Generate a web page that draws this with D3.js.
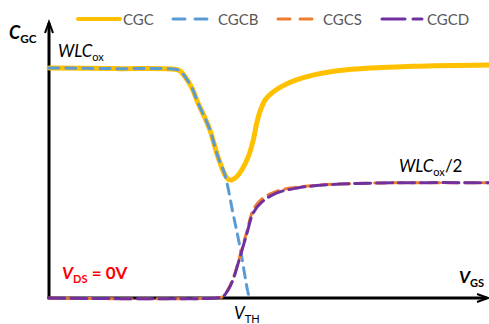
<!DOCTYPE html>
<html>
<head>
<meta charset="utf-8">
<script src="https://cdn.jsdelivr.net/npm/d3@7"></script>
<style>
  body { margin: 0; background: #fff; }
  svg { display: block; font-family: Lato, "Open Sans", sans-serif; }
</style>
</head>
<body>
<svg id="chart" width="489" height="324"></svg>
<script>
// gate voltage (arbitrary units) and normalized capacitance C/WLCox
const seriesNames = [ "CGC", "CGCB", "CGCS", "CGCD" ];

const cgcV = [ 0, 1.5, 2.864, 2.977, 3.091, 3.25, 3.386, 3.545, 3.659, 3.841, 4.0, 4.075, 4.152, 4.266, 4.38, 4.53, 4.643, 4.72, 4.795, 4.909, 5.061, 5.25, 5.59, 6.0, 6.77, 8.27, 10 ];
const cgcC = [ 0.996, 0.993, 0.99, 0.983, 0.958, 0.909, 0.844, 0.779, 0.727, 0.61, 0.532, 0.514, 0.511, 0.525, 0.554, 0.612, 0.684, 0.756, 0.807, 0.857, 0.887, 0.912, 0.942, 0.965, 0.988, 1.003, 1.009 ];

const cgcbV = [ 0, 1.5, 2.864, 2.977, 3.091, 3.25, 3.386, 3.545, 3.659, 3.841, 4.0, 4.18, 4.34, 4.52, 4.56 ];
const cgcbC = [ 0.996, 0.993, 0.99, 0.983, 0.958, 0.909, 0.844, 0.779, 0.727, 0.61, 0.532, 0.368, 0.221, 0.026, 0 ];

const cgcsV = [ 0, 3.8, 3.95, 4.07, 4.18, 4.34, 4.5, 4.64, 4.84, 5.18, 5.64, 6.23, 7.52, 10 ];
const cgcsC = [ 0, 0, 0.006, 0.037, 0.082, 0.182, 0.29, 0.381, 0.429, 0.463, 0.48, 0.49, 0.498, 0.499 ];

const cgcdV = [ 0, 3.8, 3.95, 4.07, 4.18, 4.34, 4.5, 4.64, 4.84, 5.18, 5.64, 6.23, 7.52, 10 ];
const cgcdC = [ 0, 0, 0.006, 0.035, 0.078, 0.177, 0.281, 0.368, 0.416, 0.455, 0.476, 0.489, 0.498, 0.499 ];

const styles = {
    CGC:  { color: "#FFC000", width: 5,   dash: null },
    CGCB: { color: "#5B9BD5", width: 3,   dash: "10,7" },
    CGCS: { color: "#ED7D31", width: 3,   dash: "11,7" },
    CGCD: { color: "#7030A0", width: 3,   dash: "16,6" }
};

let svg = d3.select( "#chart" );

let x = d3.scaleLinear().domain( [ 0, 10 ] ).range( [ 49, 489 ] );
let y = d3.scaleLinear().domain( [ 0, 1 ] ).range( [ 298, 67 ] );

// axes with arrow heads
let ax = svg.append( "g" ).attr( "stroke", "#000" ).attr( "fill", "none" );
ax.append( "line" ).attr( "x1", x( 0 ) ).attr( "y1", y( 0 ) + 1 ).attr( "x2", x( 0 ) ).attr( "y2", 23 ).attr( "stroke-width", 3 );
ax.append( "path" ).attr( "d", "M" + ( x( 0 ) - 4 ) + ",33 L" + x( 0 ) + ",22 L" + ( x( 0 ) + 4 ) + ",33" ).attr( "stroke-width", 2 );
ax.append( "line" ).attr( "x1", x( 0 ) - 1.5 ).attr( "y1", y( 0 ) ).attr( "x2", 487 ).attr( "y2", y( 0 ) ).attr( "stroke-width", 3 );
ax.append( "path" ).attr( "d", "M477," + ( y( 0 ) - 4 ) + " L488," + y( 0 ) + " L477," + ( y( 0 ) + 4 ) ).attr( "stroke-width", 2 );

let line = d3.line()
    .x( function ( d ) { return x( d[ 0 ] ); } )
    .y( function ( d ) { return y( d[ 1 ] ); } )
    .curve( d3.curveCatmullRom.alpha( 0.5 ) );

let series = [
    { name: "CGC",  pts: d3.zip( cgcV, cgcC ) },
    { name: "CGCB", pts: d3.zip( cgcbV, cgcbC ) },
    { name: "CGCS", pts: d3.zip( cgcsV, cgcsC ) },
    { name: "CGCD", pts: d3.zip( cgcdV, cgcdC ) }
];

svg.selectAll( ".series" ).data( series ).enter().append( "path" )
    .attr( "class", "series" )
    .attr( "d", function ( d ) { return line( d.pts ); } )
    .attr( "fill", "none" )
    .attr( "stroke", function ( d ) { return styles[ d.name ].color; } )
    .attr( "stroke-width", function ( d ) { return styles[ d.name ].width; } )
    .attr( "stroke-dasharray", function ( d ) { return styles[ d.name ].dash; } )
    .attr( "stroke-linecap", "round" )
    .attr( "stroke-linejoin", "round" );

// legend
let legendX = [ 78, 173, 278, 382 ];
let legend = svg.selectAll( ".legend" ).data( seriesNames ).enter().append( "g" )
    .attr( "class", "legend" )
    .attr( "transform", function ( d, i ) { return "translate(" + legendX[ i ] + ",19)"; } );
legend.append( "line" )
    .attr( "x1", 0 ).attr( "x2", function ( d ) { return d === "CGC" ? 42 : 40; } )
    .attr( "y1", 0 ).attr( "y2", 0 )
    .attr( "stroke", function ( d ) { return styles[ d ].color; } )
    .attr( "stroke-width", function ( d ) { return d === "CGC" ? 4 : 3; } )
    .attr( "stroke-dasharray", function ( d ) { return d === "CGCD" ? "23,8" : ( styles[ d ].dash ? "12,10" : null ); } )
    .attr( "stroke-linecap", "round" );
legend.append( "text" )
    .attr( "x", 45 )
    .attr( "y", 6 )
    .attr( "font-size", 15 )
    .attr( "fill", "#595959" )
    .text( function ( d ) { return d; } );

// labels
function label( px, py, main, sub, tail, opt ) {
    let t = svg.append( "text" ).attr( "x", px ).attr( "y", py )
        .attr( "font-size", opt.size ).attr( "fill", opt.color || "#000" )
        .attr( "font-weight", opt.bold ? "bold" : "normal" );
    t.append( "tspan" ).attr( "font-style", "italic" ).text( main );
    t.append( "tspan" ).attr( "font-size", opt.size * 0.65 ).attr( "dy", opt.size * 0.22 ).text( sub );
    if( tail ) t.append( "tspan" ).attr( "dy", -opt.size * 0.22 ).text( tail );
}

label( 9, 39, "C", "GC", null, { size: 18, bold: true } );
label( 58, 57, "WLC", "ox", null, { size: 17 } );
label( 399, 172, "WLC", "ox", "/2", { size: 17 } );
label( 459, 283, "V", "GS", null, { size: 17, bold: true } );
label( 234, 319, "V", "TH", null, { size: 17 } );
label( 62, 279, "V", "DS", " = 0V", { size: 17, bold: true, color: "#FF0000" } );
</script>
</body>
</html>
